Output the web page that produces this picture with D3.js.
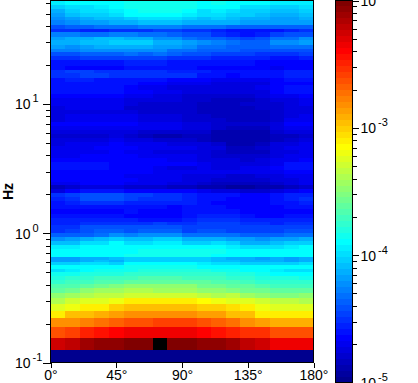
<!DOCTYPE html>
<html>
<head>
<meta charset="utf-8">
<script src="https://cdn.jsdelivr.net/npm/d3@7"></script>
<style>
body { margin: 0; background: #fff; }
svg { display: block; }
text { font-family: "Liberation Sans", Arial, sans-serif; fill: #000; }
</style>
</head>
<body>
<svg width="418" height="383"></svg>
<script>
// band edges in Hz, top of the plot first
let freqEdges = [63.1, 58.7, 54.7, 50.9, 47.4, 44.2, 41.1, 38.3, 35.7, 33.2, 30.95, 28.8, 26.8, 25.0, 23.3, 21.7,
  19.8, 18.45, 17.2, 16.0, 14.9, 13.9, 12.9, 12.0, 11.2, 10.4, 9.7, 9.04, 8.42, 7.84, 7.30, 6.80, 6.33, 5.90, 5.49,
  5.12, 4.76, 4.44, 4.13, 3.85, 3.58, 3.34, 3.11, 2.89, 2.69, 2.51, 2.34, 2.18, 2.03, 1.89, 1.76, 1.64, 1.53, 1.42,
  1.32, 1.23, 1.15, 1.07, 1.0, 0.938, 0.875, 0.813, 0.75, 0.688, 0.656, 0.625, 0.594, 0.563, 0.531, 0.5, 0.469,
  0.438, 0.406, 0.375, 0.344, 0.313, 0.281, 0.25, 0.219, 0.188, 0.156, 0.125, 0.1]

let angleEdges = [0, 10, 20, 30, 40, 50, 60, 70, 80, 90, 100, 110, 120, 130, 140, 150, 160, 170, 180]

// -log10(power) x 100, one line per band, same order as freqEdges
let spectrum = [
  [395,392,390,390,388,385,385,385,385,385,388,385,388,390,392,395,395,395],
  [405,400,397,395,392,387,385,385,385,387,392,390,392,397,400,402,402,400],
  [412,405,400,398,395,390,387,387,387,390,397,395,397,402,405,407,407,405],
  [418,410,405,403,400,392,388,388,390,395,400,400,402,405,408,412,412,410],
  [422,418,412,410,407,402,398,398,400,405,407,405,408,412,415,417,417,415],
  [428,425,420,418,415,412,408,408,410,412,413,412,415,418,420,420,420,420],
  [440,437,435,432,432,430,428,428,428,430,432,432,435,435,435,437,437,437],
  [452,452,455,455,452,452,450,448,448,450,452,455,458,460,460,458,455,452],
  [428,428,432,430,428,428,432,432,437,440,442,450,455,458,456,445,440,440],
  [418,415,412,410,410,412,415,422,425,430,435,438,442,445,443,432,430,425],
  [412,414,410,407,405,404,405,412,415,420,425,428,432,435,435,425,425,420],
  [420,422,417,414,412,412,414,418,420,425,430,432,435,438,437,432,432,430],
  [428,428,425,424,425,422,425,424,430,432,435,437,438,440,440,442,442,440],
  [440,440,438,435,437,432,435,434,438,440,442,445,445,447,450,450,450,448],
  [452,450,448,448,445,444,445,445,450,450,452,455,455,456,456,458,458,456],
  [462,462,462,460,460,456,456,456,458,458,460,460,460,462,463,465,465,463],
  [462,465,466,466,466,462,460,460,460,462,464,464,465,466,466,468,466,464],
  [450,448,448,450,452,452,452,452,454,456,456,460,460,460,460,458,455,455],
  [452,450,448,448,449,450,450,450,453,453,458,460,464,462,460,460,457,457],
  [460,457,457,458,458,460,462,462,463,465,466,468,470,470,468,465,462,460],
  [458,458,460,460,460,462,465,466,468,468,470,472,473,473,472,467,465,463],
  [458,460,460,462,462,466,468,471,473,474,474,475,475,473,470,466,460,458],
  [462,462,462,462,462,466,466,468,470,472,474,474,476,474,472,467,460,460],
  [466,466,466,466,466,470,471,473,475,477,481,481,480,478,475,471,468,466],
  [470,470,470,470,470,474,476,476,476,478,481,483,482,482,480,473,474,471],
  [471,471,471,471,471,476,478,480,480,480,483,483,482,480,477,477,473,471],
  [472,471,471,471,471,477,477,481,481,481,483,485,483,482,480,480,475,472],
  [475,472,472,472,472,474,478,480,480,480,482,485,485,485,482,478,474,472],
  [472,471,471,471,471,471,474,476,476,478,478,482,485,485,483,478,472,471],
  [474,471,469,469,469,471,472,474,476,478,478,480,482,482,482,478,471,468],
  [467,467,467,467,467,465,468,470,470,472,472,477,480,480,480,475,465,465],
  [471,471,469,469,469,471,471,471,471,474,474,480,482,484,484,476,471,469],
  [476,476,474,472,472,474,478,478,478,478,480,486,488,488,486,478,474,472],
  [481,481,478,478,476,480,484,486,486,484,484,488,490,490,490,484,482,480],
  [476,476,474,472,471,474,476,478,478,480,482,486,490,490,488,482,478,476],
  [472,471,469,468,466,469,469,471,472,474,476,480,486,486,482,476,474,471],
  [471,469,468,466,465,466,468,469,469,471,474,476,482,482,480,474,471,468],
  [469,471,469,468,466,469,471,472,474,474,476,480,484,484,482,476,472,471],
  [468,468,466,466,465,466,468,469,471,471,474,478,480,480,480,474,469,468],
  [463,463,465,465,465,465,466,466,468,469,472,476,476,478,476,471,468,466],
  [460,461,462,462,463,464,465,465,465,466,469,474,474,474,472,468,460,460],
  [460,460,460,462,464,465,466,471,472,472,471,472,472,471,469,466,462,460],
  [464,464,464,465,465,465,466,468,469,471,469,471,471,469,468,468,465,464],
  [466,466,466,466,466,469,469,469,471,472,472,474,478,478,476,472,469,468],
  [465,466,466,466,465,466,468,469,471,472,474,477,480,480,480,476,472,471],
  [469,469,464,465,464,468,469,471,472,476,480,482,484,484,482,478,474,471],
  [482,480,474,476,472,478,478,480,482,484,486,490,492,492,490,486,482,478],
  [472,464,460,459,459,463,463,465,465,467,469,472,476,480,478,474,469,467],
  [450,448,442,442,442,445,448,452,452,455,460,459,460,463,463,460,457,455],
  [455,452,442,442,442,448,452,452,452,457,460,460,463,465,463,460,455,452],
  [459,457,452,450,450,455,455,457,457,457,460,463,463,466,465,460,459,457],
  [462,460,459,459,459,460,460,460,463,459,460,460,463,466,466,463,460,459],
  [465,463,463,466,464,462,465,465,465,462,459,460,460,465,466,465,463,463],
  [460,460,460,460,460,465,466,466,463,460,457,457,457,460,463,463,460,459],
  [457,457,455,455,455,457,460,460,459,457,452,452,452,455,457,457,457,457],
  [455,457,452,450,450,450,450,448,452,452,448,448,448,452,452,455,452,452],
  [452,452,442,440,440,442,440,440,440,445,445,445,445,448,448,448,445,445],
  [450,448,440,438,438,440,438,438,438,445,442,442,445,448,448,445,442,442],
  [435,435,435,430,425,428,425,425,425,430,430,430,432,435,438,435,432,432],
  [422,420,412,410,405,410,408,405,405,412,415,412,418,420,422,420,418,415],
  [410,408,400,400,392,398,398,395,395,402,405,400,405,412,412,408,405,405],
  [395,395,392,388,392,390,392,390,388,392,392,392,395,400,400,398,395,392],
  [392,392,388,390,388,388,387,387,387,387,387,387,388,392,392,390,390,390],
  [392,392,390,388,388,387,386,386,386,386,386,388,390,392,392,392,392,392],
  [420,420,415,412,410,405,402,402,402,402,405,410,412,415,418,415,420,415],
  [418,418,412,410,412,402,402,402,402,402,402,408,408,412,415,415,418,415],
  [405,405,398,400,405,392,392,392,392,392,395,400,400,402,402,402,402,400],
  [392,392,388,388,390,387,387,387,387,387,388,392,390,392,392,392,392,390],
  [398,394,388,387,385,384,382,382,382,382,382,385,387,390,392,396,398,398],
  [387,385,382,382,380,378,375,375,375,375,375,378,382,382,385,388,388,388],
  [382,378,375,372,372,370,368,368,368,370,372,372,378,378,380,382,382,384],
  [375,372,370,365,365,362,360,360,360,362,362,365,368,370,375,376,376,378],
  [368,365,360,356,352,350,350,350,350,350,355,358,360,362,368,370,372,372],
  [360,355,350,345,342,340,340,345,345,345,348,350,352,355,358,360,362,362],
  [350,345,340,335,335,330,330,330,328,328,332,338,335,345,350,352,352,348],
  [338,330,325,322,318,310,310,310,310,310,316,318,325,322,330,332,335,336],
  [325,318,310,308,302,298,297,297,297,297,300,300,304,312,318,324,326,326],
  [310,298,295,291,285,284,281,281,281,281,285,289,295,297,308,310,310,310],
  [284,280,276,273,268,262,261,260,260,260,261,266,273,282,285,290,290,290],
  [261,257,248,245,240,235,235,234,234,234,238,243,249,253,256,262,264,264],
  [226,219,211,208,208,203,203,190,204,204,209,209,214,219,226,235,233,235],
  [520,520,520,520,520,520,520,520,520,520,520,520,520,520,520,520,520,520]
]

let angleTicks = [0, 45, 90, 135, 180]
let freqMajor = [0.1, 1, 10]
let freqMinor = [0.2, 0.3, 0.4, 0.5, 0.6, 0.7, 0.8, 0.9, 2, 3, 4, 5, 6, 7, 8, 9, 20, 30, 40, 50, 60]
let barMajor = [1e-5, 1e-4, 1e-3, 1e-2]
let barMinor = [2e-5, 3e-5, 4e-5, 5e-5, 6e-5, 7e-5, 8e-5, 9e-5, 2e-4, 3e-4, 4e-4, 5e-4, 6e-4, 7e-4, 8e-4, 9e-4,
  2e-3, 3e-3, 4e-3, 5e-3, 6e-3, 7e-3, 8e-3, 9e-3]

let plot = { left: 50.5, right: 313.5, top: 0.5, bottom: 362.5 }
let bar = { left: 335.5, right: 352.5, top: 0.5, bottom: 382.5 }
let levels = 64

let xScale = d3.scaleLinear().domain([0, 180]).range([plot.left, plot.right])
let yScale = d3.scaleLog().domain([0.1, 63.1]).range([plot.bottom, plot.top])
let barScale = d3.scaleLog().domain([1e-5, 1e-2]).range([bar.bottom, bar.top])

// 64 step jet, as on the colour bar
function jet(i) {
  let t = (i + 1) / levels
  let c = k => Math.round(255 * Math.max(0, Math.min(1, 1.5 - Math.abs(4 * t - k))))
  return d3.rgb(c(3), c(2), c(1)).formatHex()
}
let jetColors = d3.range(levels).map(jet)
let levelScale = d3.scaleQuantize()
  .domain([Math.log10(1e-5), Math.log10(1e-2)])
  .range(jetColors)

// anything above the top of the colour bar comes out black
function colorOf(power) {
  if (power > 1e-2) return '#000'
  return levelScale(Math.log10(power))
}

let svg = d3.select('svg')

// cells
let cells = []
spectrum.forEach((row, r) => {
  row.forEach((v, c) => {
    cells.push({ power: Math.pow(10, -v / 100), a0: angleEdges[c], a1: angleEdges[c + 1], f0: freqEdges[r + 1], f1: freqEdges[r] })
  })
})

svg.append('g').selectAll('rect')
  .data(cells)
  .enter()
  .append('rect')
  .attr('x', d => Math.round(xScale(d.a0)))
  .attr('width', d => Math.round(xScale(d.a1)) - Math.round(xScale(d.a0)))
  .attr('y', d => Math.round(yScale(d.f1)))
  .attr('height', d => Math.round(yScale(d.f0)) - Math.round(yScale(d.f1)))
  .attr('fill', d => colorOf(d.power))
  .attr('shape-rendering', 'crispEdges')

// colour bar
let barSteps = d3.range(levels)
let barLog = d3.scaleLinear().domain([0, levels]).range([-5, -2])
svg.append('g').selectAll('rect')
  .data(barSteps)
  .enter()
  .append('rect')
  .attr('x', bar.left)
  .attr('width', bar.right - bar.left)
  .attr('y', d => Math.round(barScale(Math.pow(10, barLog(d + 1)))))
  .attr('height', d => Math.round(barScale(Math.pow(10, barLog(d)))) - Math.round(barScale(Math.pow(10, barLog(d + 1)))))
  .attr('fill', d => jetColors[d])
  .attr('shape-rendering', 'crispEdges')

// frames
svg.append('rect')
  .attr('x', plot.left).attr('y', plot.top)
  .attr('width', plot.right - plot.left).attr('height', plot.bottom - plot.top)
  .attr('fill', 'none').attr('stroke', '#000').attr('shape-rendering', 'crispEdges')
svg.append('rect')
  .attr('x', bar.left).attr('y', bar.top)
  .attr('width', bar.right - bar.left).attr('height', bar.bottom - bar.top)
  .attr('fill', 'none').attr('stroke', '#000').attr('shape-rendering', 'crispEdges')

// "10" plus a raised exponent
function powerLabel(selection, value) {
  selection.text('10')
  selection.append('tspan')
    .attr('dx', 2)
    .attr('dy', -7)
    .attr('font-size', 11)
    .text(Math.round(Math.log10(value)))
}

function styleAxis(g) {
  g.select('.domain').remove()
  g.selectAll('line').attr('shape-rendering', 'crispEdges').attr('stroke', '#000')
}

// frequency axis
svg.append('g')
  .attr('transform', 'translate(' + [plot.left, 0] + ')')
  .call(d3.axisLeft(yScale).tickValues(freqMinor).tickSize(5).tickFormat(''))
  .call(styleAxis)

svg.append('g')
  .attr('transform', 'translate(' + [plot.left, 0] + ')')
  .call(d3.axisLeft(yScale).tickValues(freqMajor).tickSize(8).tickPadding(1).tickFormat(''))
  .call(styleAxis)
  .selectAll('.tick')
  .each(function (d) {
    d3.select(this).append('text')
      .attr('x', -35.5)
      .attr('y', 5)
      .attr('text-anchor', 'start')
      .attr('font-size', 14)
      .call(powerLabel, d)
  })

// angle axis
svg.append('g')
  .attr('transform', 'translate(' + [0, plot.bottom] + ')')
  .call(d3.axisBottom(xScale).tickValues(angleTicks).tickSize(5).tickPadding(3).tickFormat(d => d + '°'))
  .call(styleAxis)
  .selectAll('text')
  .attr('font-size', 14)
  .attr('font-family', '"Liberation Sans", Arial, sans-serif')

// colour bar axis
svg.append('g')
  .attr('transform', 'translate(' + [bar.right, 0] + ')')
  .call(d3.axisRight(barScale).tickValues(barMinor).tickSize(4).tickFormat(''))
  .call(styleAxis)

svg.append('g')
  .attr('transform', 'translate(' + [bar.right, 0] + ')')
  .call(d3.axisRight(barScale).tickValues(barMajor).tickSize(6).tickFormat(''))
  .call(styleAxis)
  .selectAll('.tick')
  .each(function (d) {
    d3.select(this).append('text')
      .attr('x', 8)
      .attr('y', 5)
      .attr('font-size', 14)
      .call(powerLabel, d)
  })

// axis title
svg.append('text')
  .attr('transform', 'translate(13,191.5) rotate(-90)')
  .attr('text-anchor', 'middle')
  .attr('font-size', 14)
  .attr('font-weight', 'bold')
  .text('Hz')
</script>
</body>
</html>
